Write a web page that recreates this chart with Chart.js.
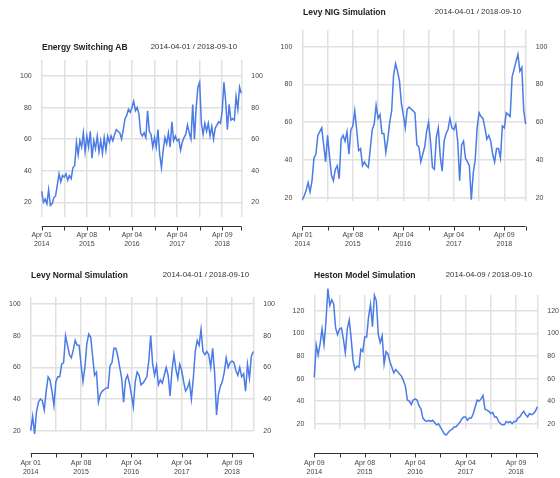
<!DOCTYPE html>
<html>
<head>
<meta charset="utf-8">
<script src="https://cdn.jsdelivr.net/npm/chart.js@4.4.1/dist/chart.umd.min.js"></script>
<style>
  body { margin: 0; background: #fff; width: 560px; height: 478px; position: relative; overflow: hidden;
         font-family: "Liberation Sans", Arial, sans-serif; }
  .panel { position: absolute; width: 280px; }
  .panel canvas { position: absolute; left: 0; top: 0; }
  .title { position: absolute; font-weight: bold; font-size: 8.5px; line-height: 10px; color: #222; white-space: nowrap; }
  .range { position: absolute; font-size: 7.8px; line-height: 10px; color: #333; white-space: nowrap; }
</style>
</head>
<body>
<div class="panel" style="left:0;top:0;height:250px">
  <canvas id="c1" width="280" height="250"></canvas>
  <div class="title" style="left:42px;top:42px">Energy Switching AB</div>
  <div class="range" style="right:43px;top:42px">2014-04-01 / 2018-09-10</div>
</div>
<div class="panel" style="left:280px;top:0;height:250px">
  <canvas id="c2" width="280" height="250"></canvas>
  <div class="title" style="left:23px;top:7px">Levy NIG Simulation</div>
  <div class="range" style="right:39px;top:7px">2014-04-01 / 2018-09-10</div>
</div>
<div class="panel" style="left:0;top:250px;height:228px">
  <canvas id="c3" width="280" height="228"></canvas>
  <div class="title" style="left:31px;top:20px">Levy Normal Simulation</div>
  <div class="range" style="right:31px;top:20px">2014-04-01 / 2018-09-10</div>
</div>
<div class="panel" style="left:280px;top:250px;height:228px">
  <canvas id="c4" width="280" height="228"></canvas>
  <div class="title" style="left:34px;top:20px">Heston Model Simulation</div>
  <div class="range" style="right:28px;top:20px">2014-04-09 / 2018-09-10</div>
</div>

<script>
// one point every two weeks, gridline every half year (13 points)
const xTicks = [0, 13, 26, 39, 52, 65, 78, 91, 104, 115];
const xTickText = ['Apr 01\n2014', '', 'Apr 08\n2015', '', 'Apr 04\n2016', '', 'Apr 04\n2017', '', 'Apr 09\n2018', ''];
const xTickTextHeston = ['Apr 09\n2014', '', 'Apr 08\n2015', '', 'Apr 04\n2016', '', 'Apr 04\n2017', '', 'Apr 09\n2018', ''];
const yTicks = [20, 40, 60, 80, 100];
const yTicksHeston = [20, 40, 60, 80, 100, 120];

const energy = [
  27, 20, 22, 19, 28, 18, 19, 23, 24, 31, 38, 33, 37,
  36, 38, 34, 37, 35, 42, 43, 58, 50, 59, 55, 64, 52,
  62, 55, 65, 48, 59, 54, 62, 52, 59, 51, 61, 53, 62,
  58, 62, 59, 63, 66, 65, 64, 60, 66, 73, 75, 79, 77,
  80, 84, 78, 80, 76, 64, 62, 64, 61, 78, 65, 63, 55,
  61, 55, 66, 50, 42, 53, 61, 57, 64, 55, 71, 59, 62,
  59, 60, 53, 58, 61, 63, 69, 64, 60, 82, 60, 80, 93,
  96, 70, 63, 70, 65, 70, 62, 68, 60, 67, 69, 71, 70,
  78, 96, 84, 66, 82, 72, 73, 72, 87, 79, 93, 89
];
const levyNig = [
  19, 21, 24, 28, 23, 29, 41, 43, 53, 55, 57, 48, 39,
  53, 42, 32, 29, 35, 37, 30, 51, 53, 50, 55, 43, 56,
  58, 66, 56, 45, 46, 37, 39, 37, 36, 46, 56, 59, 69,
  62, 64, 54, 54, 44, 51, 60, 66, 85, 91, 87, 82, 70,
  64, 57, 67, 68, 67, 66, 65, 48, 47, 39, 43, 47, 55,
  60, 50, 36, 35, 52, 57, 42, 34, 50, 54, 56, 62, 57,
  56, 59, 50, 29, 48, 50, 41, 39, 37, 19, 33, 40, 57,
  65, 63, 62, 57, 51, 53, 50, 43, 39, 46, 46, 41, 58,
  57, 65, 64, 63, 84, 88, 92, 96, 87, 89, 66, 59
];
const levyNormal = [
  20, 29, 18, 32, 38, 40, 39, 33, 45, 54, 52, 45, 36,
  51, 54, 54, 62, 63, 80, 74, 68, 66, 71, 77, 74, 74,
  62, 51, 60, 75, 81, 79, 67, 55, 57, 38, 43, 45, 46,
  47, 47, 61, 63, 72, 72, 67, 60, 53, 38, 52, 55, 50,
  43, 35, 51, 57, 55, 49, 50, 52, 54, 64, 80, 62, 55,
  61, 49, 52, 50, 55, 60, 55, 42, 58, 68, 59, 53, 62,
  58, 51, 45, 47, 51, 40, 53, 70, 77, 74, 84, 70, 68,
  70, 68, 60, 72, 57, 30, 43, 48, 51, 57, 66, 60, 63,
  64, 63, 58, 55, 60, 54, 56, 45, 62, 53, 67, 70
];
const heston = [
  61, 90, 81, 91, 104, 90, 110, 140, 125, 130, 126, 105, 99,
  104, 105, 95, 83, 104, 112, 96, 76, 68, 71, 70, 86, 84,
  97, 97, 115, 126, 106, 134, 129, 99, 92, 98, 73, 84, 82,
  75, 70, 65, 68, 66, 64, 62, 58, 53, 41, 40, 37, 41,
  42, 41, 36, 33, 25, 23, 22, 23, 22, 23, 21, 19, 20,
  17, 14, 11, 10, 12, 14, 15, 17, 17, 19, 21, 24, 26,
  26, 23, 25, 25, 29, 35, 41, 40, 42, 45, 33, 32, 31,
  29, 30, 26, 26, 22, 20, 19, 19, 22, 21, 22, 20, 22,
  22, 25, 26, 29, 31, 28, 26, 29, 28, 29, 31, 35
];

const lineColor = '#4a7be6';
const gridColor = '#e0e0e0';
const tickColor = '#444';
const tickFont = { family: '"Liberation Sans", Arial, sans-serif', size: 7, lineHeight: '9px' };

// axis line with small tick marks, a few px below the plot region
const axisLine = {
  id: 'axisLine',
  afterDraw(chart, args, opts) {
    const x = chart.scales.x;
    const ctx = chart.ctx;
    const y = opts.y + 0.5;
    const first = x.getPixelForValue(x.ticks[0].value);
    const last = x.getPixelForValue(x.ticks[x.ticks.length - 1].value);
    ctx.save();
    ctx.strokeStyle = '#333';
    ctx.lineWidth = 1;
    ctx.beginPath();
    ctx.moveTo(first, y);
    ctx.lineTo(last, y);
    x.ticks.forEach(t => {
      const px = Math.round(x.getPixelForValue(t.value)) + 0.5;
      ctx.moveTo(px, y);
      ctx.lineTo(px, y + 4);
    });
    ctx.stroke();
    ctx.restore();
  }
};

function drawPanel(canvasId, values, yTickList, tickText, area) {
  const canvas = document.getElementById(canvasId);
  const W = canvas.width, H = canvas.height;
  const yScale = (pos, width) => ({
    position: pos,
    min: area.min,
    max: area.max,
    afterBuildTicks: s => { s.ticks = yTickList.map(v => ({ value: v })); },
    afterFit: s => { s.width = width; s.paddingTop = 0; s.paddingBottom = 0; },
    grid: { display: pos === 'left', color: gridColor, lineWidth: 1.5, drawTicks: false },
    border: { display: false },
    ticks: { padding: 10, color: tickColor, font: tickFont }
  });
  return new Chart(canvas, {
    type: 'line',
    data: {
      datasets: [{
        data: values.map((v, i) => ({ x: i, y: v })),
        borderColor: lineColor,
        borderWidth: 1.5,
        pointRadius: 0,
        tension: 0,
        clip: false
      }]
    },
    options: {
      responsive: false,
      animation: false,
      events: [],
      layout: { padding: { top: area.top, left: 0, right: 0, bottom: 0 } },
      plugins: { legend: { display: false }, tooltip: { enabled: false }, axisLine: { y: area.axis } },
      scales: {
        x: {
          type: 'linear',
          min: 0,
          max: values.length - 1,
          afterBuildTicks: s => { s.ticks = xTicks.map(v => ({ value: v })); },
          afterFit: s => { s.height = H - area.bottom; s.paddingLeft = 0; s.paddingRight = 0; },
          grid: { color: gridColor, lineWidth: 1.5, drawTicks: false },
          border: { display: false },
          ticks: {
            autoSkip: false, maxRotation: 0, padding: area.labelPad, color: tickColor, font: tickFont,
            callback: (v, i) => tickText[i] ? tickText[i].split('\n') : ''
          }
        },
        y: yScale('left', area.left),
        y2: yScale('right', W - area.right)
      }
    },
    plugins: [axisLine]
  });
}

drawPanel('c1', energy, yTicks, xTickText,
  { left: 41.7, right: 241.3, top: 60, bottom: 217, axis: 226, labelPad: 14, min: 10.69, max: 110.13 });
drawPanel('c2', levyNig, yTicks, xTickText,
  { left: 22.3, right: 245.7, top: 30, bottom: 201, axis: 226, labelPad: 30, min: 18.25, max: 108.85 });
drawPanel('c3', levyNormal, yTicks, xTickText,
  { left: 30.7, right: 253.3, top: 47, bottom: 181, axis: 203, labelPad: 27.5, min: 19.81, max: 104.42 });
drawPanel('c4', heston, yTicksHeston, xTickTextHeston,
  { left: 34.3, right: 257.3, top: 45, bottom: 179, axis: 203, labelPad: 29.5, min: 15.3, max: 134.2 });
</script>
</body>
</html>
